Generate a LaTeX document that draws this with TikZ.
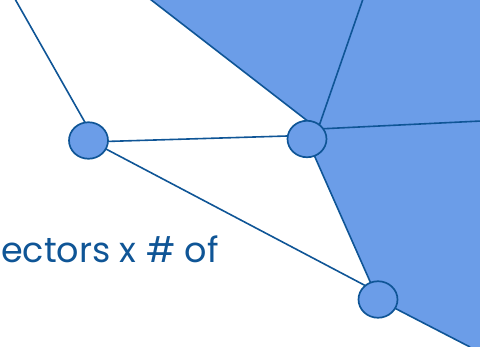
\documentclass[tikz,border=0pt]{standalone}
\usepackage{fontspec}
\setmainfont{Poppins}
\usetikzlibrary{shapes.geometric}
\definecolor{fillblue}{HTML}{6B9DE8}
\definecolor{lineblue}{HTML}{0F5596}
\tikzset{
  vertex/.style={ellipse, draw=lineblue, fill=fillblue, line width=1.7pt, minimum width=39pt, minimum height=36.5pt, inner sep=0pt},
  edge/.style={draw=lineblue, line width=1.6pt},
}
\begin{document}
\begin{tikzpicture}[x=1pt,y=-1pt]
\useasboundingbox (0,0) rectangle (480,346);
\clip (0,0) rectangle (480,346);
% free ends and hidden joints
\coordinate (tl) at (15,-1);
\coordinate (pa) at (150,-1);
\coordinate (pb) at (363,-1);
\coordinate (pr) at (481,121);
\coordinate (pc) at (470,347);
\coordinate (Ac) at (88.5,140.5);
\coordinate (Bc) at (307,139);
\coordinate (Cc) at (378,299.5);
\coordinate (Bv) at (318,129);
\coordinate (Aj) at (95,140);
\coordinate (Ab) at (88.5,142);
\coordinate (Bb) at (307,135.4);
\coordinate (Ac2) at (88.5,139.8);
\coordinate (Cj) at (378,292.3);
\fill[fillblue] (pa) -- (Bv) -- (Bc) -- (Cc) -- (pc) -- (481,347) -- (481,-1) -- cycle;
\draw[edge] (tl) -- (Aj);
\draw[edge] (Ab) -- (Bb);
\draw[edge] (Ac2) -- (Cj);
\draw[edge] (pa) -- (Bv);
\draw[edge] (pb) -- (Bv);
\draw[edge] (pr) -- (Bv);
\draw[edge] (Bc) -- (Cc);
\draw[edge] (Cc) -- (pc);
\node[vertex] (A) at (Ac) {};
\node[vertex] (B) at (Bc) {};
\node[vertex] (C) at (Cc) {};
\node[anchor=base west, inner sep=0pt, text=lineblue, font=\fontsize{35}{42}\selectfont] (T) at (1,262) {ectors x \# of};
\end{tikzpicture}
\end{document}
